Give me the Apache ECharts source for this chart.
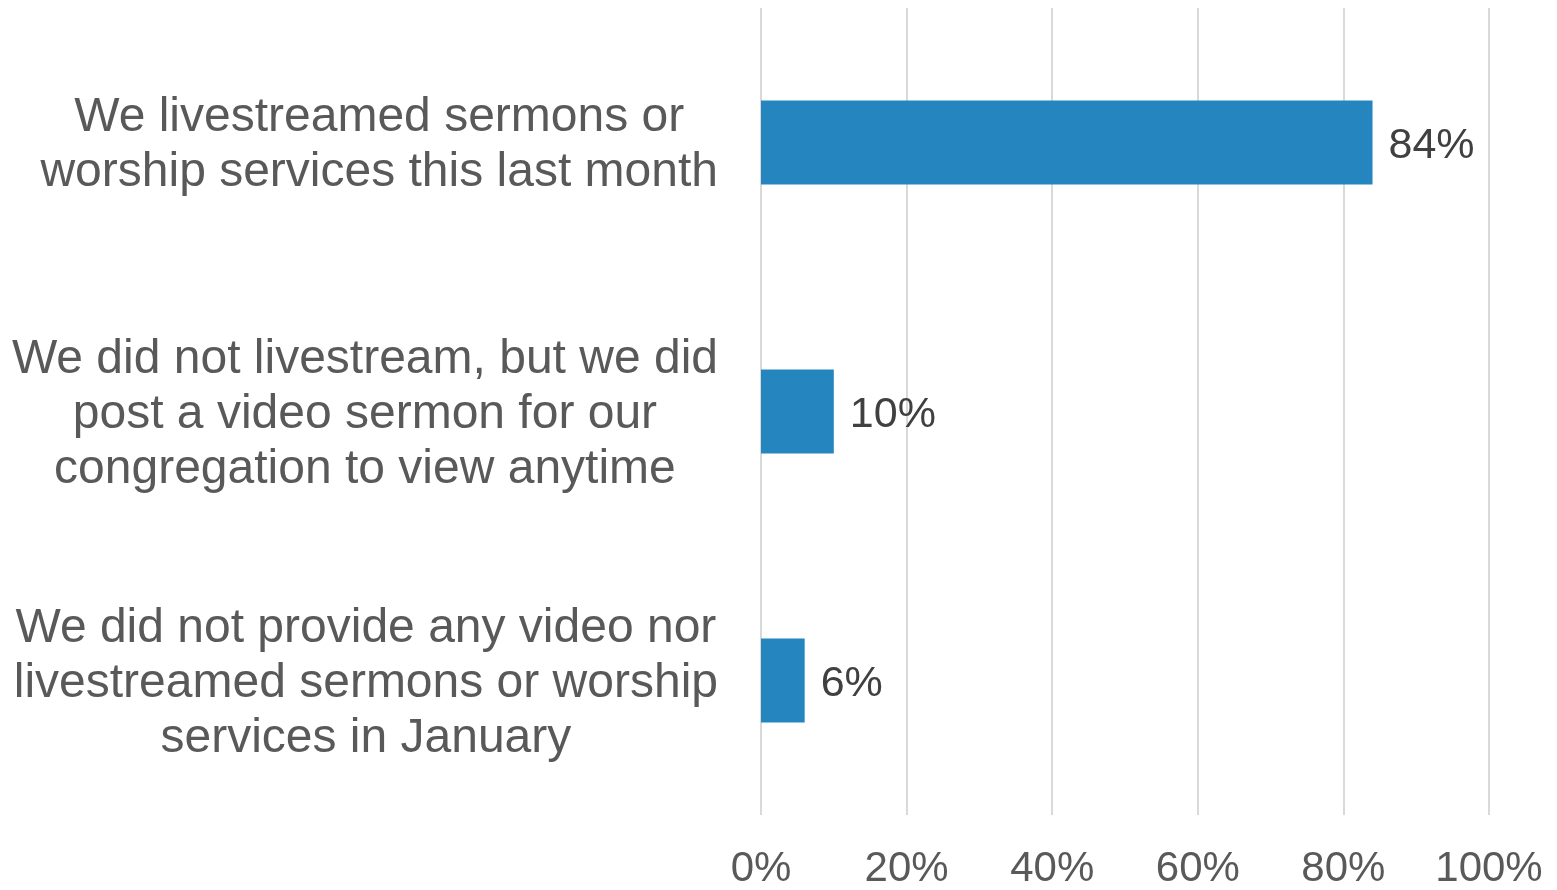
<!DOCTYPE html>
<html>
<head>
<meta charset="utf-8">
<script src="https://cdn.jsdelivr.net/npm/echarts@6/dist/echarts.min.js"></script>
<style>
  html, body { margin: 0; padding: 0; background: #fff; }
  #chart { width: 1557px; height: 890px; }
</style>
</head>
<body>
<div id="chart"></div>
<script>
// categories, top to bottom
const categories = [
  'We livestreamed sermons or\nworship services this last month',
  'We did not livestream, but we did\npost a video sermon for our\ncongregation to view anytime',
  'We did not provide any video nor\nlivestreamed sermons or worship\nservices in January'
];
// percent values
const values = [84, 10, 6];

const FONT = 'Liberation Sans, Arial, sans-serif';
const chart = echarts.init(document.getElementById('chart'));

const option = {
  animation: false,
  grid: { left: 761, right: 68, top: 8, bottom: 72, containLabel: false },
  xAxis: {
    type: 'value',
    min: 0,
    max: 100,
    interval: 20,
    axisLine: { show: false },
    axisTick: { show: false },
    splitLine: { show: true, lineStyle: { color: '#d9d9d9', width: 2 } },
    axisLabel: {
      margin: 33,
      fontFamily: FONT,
      fontSize: 42,
      color: '#595959',
      formatter: v => v + '%'
    }
  },
  yAxis: {
    type: 'category',
    inverse: true,
    data: categories,
    axisLine: { show: false },
    axisTick: { show: false },
    axisLabel: {
      align: 'right',
      margin: 43,
      // each line centred inside a block that is right aligned
      formatter: v => v.split('\n').map(s => '{c|' + s + '}').join('\n'),
      rich: {
        c: {
          align: 'center',
          fontFamily: FONT,
          fontSize: 48,
          lineHeight: 55,
          color: '#595959'
        }
      },
      padding: [6, 0, 0, 0]
    }
  },
  series: [{
    type: 'bar',
    data: values,
    barWidth: 84,
    itemStyle: { color: '#2586bf' },
    label: {
      show: true,
      position: 'right',
      distance: 16,
      offset: [0, 4],
      fontFamily: FONT,
      fontSize: 43,
      color: '#404040',
      formatter: p => p.value + '%'
    }
  }]
};

chart.setOption(option);
</script>
</body>
</html>
